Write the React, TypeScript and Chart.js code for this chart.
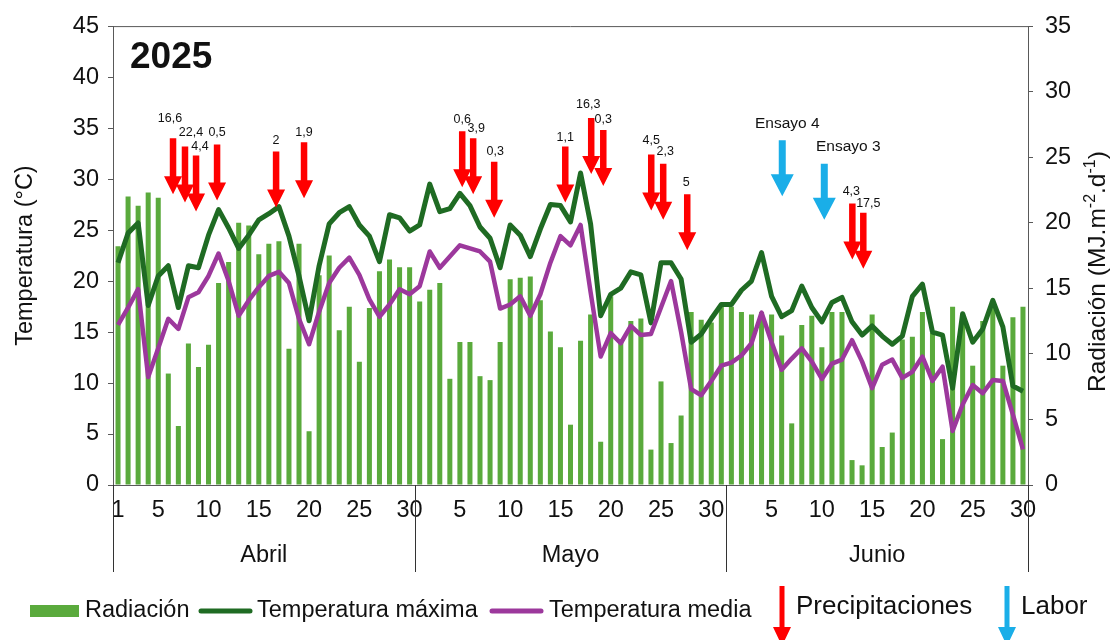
import React, { useEffect, useRef } from "react";
import { Chart, registerables } from "chart.js";

Chart.register(...registerables);

const FONT = "'Liberation Sans', Arial, Helvetica, sans-serif";

// ---------- data ----------
const MONTHS = ["Abril", "Mayo", "Junio"];
const MONTH_LENGTHS = [30, 31, 30];
const TICK_DAYS = [
  [1, 5, 10, 15, 20, 25, 30],
  [5, 10, 15, 20, 25, 30],
  [5, 10, 15, 20, 25, 30],
];

const RAD_ABRIL = [18.2, 22.0, 21.3, 22.3, 21.9, 8.5, 4.5, 10.8, 9.0, 10.7, 15.4, 17.0, 20.0, 19.8, 17.6, 18.4, 18.6, 10.4, 18.4, 4.1, 16.0, 17.5, 11.8, 13.6, 9.4, 13.5, 16.3, 17.2, 16.6, 16.6];
const RAD_MAYO = [14.0, 14.9, 15.4, 8.1, 10.9, 10.9, 8.3, 8.0, 10.9, 15.7, 15.8, 15.9, 14.1, 11.7, 10.5, 4.6, 11.0, 13.0, 3.3, 14.4, 10.9, 12.5, 12.7, 2.7, 7.9, 3.2, 5.3, 13.2, 12.6, 12.4, 13.7];
const RAD_JUNIO = [13.6, 13.2, 13.0, 13.2, 13.0, 11.4, 4.7, 12.2, 12.9, 10.5, 13.2, 13.2, 1.9, 1.5, 13.0, 2.9, 4.0, 11.1, 11.3, 13.2, 11.6, 3.5, 13.6, 12.9, 9.1, 12.5, 13.6, 9.1, 12.8, 13.6];

const TMAX_ABRIL = [21.8, 24.7, 25.7, 17.6, 20.5, 21.5, 17.4, 21.5, 21.3, 24.5, 27.0, 25.2, 23.2, 24.5, 26.0, 26.6, 27.3, 24.4, 20.5, 16.1, 21.5, 25.6, 26.7, 27.3, 25.5, 24.4, 21.9, 26.5, 26.2, 24.9];
const TMAX_MAYO = [25.5, 29.5, 26.8, 27.1, 28.6, 27.4, 25.3, 24.2, 21.3, 25.5, 24.5, 22.4, 25.1, 27.5, 27.4, 25.8, 30.6, 25.6, 16.6, 18.7, 19.3, 20.9, 20.6, 15.9, 21.8, 21.8, 20.2, 14.0, 14.8, 16.3, 17.7];
const TMAX_JUNIO = [17.7, 19.1, 20.0, 22.8, 18.5, 16.5, 17.1, 19.5, 17.4, 16.0, 17.9, 18.4, 16.0, 14.7, 15.6, 14.6, 13.8, 14.6, 18.5, 19.7, 15.0, 14.7, 9.5, 16.8, 14.0, 15.3, 18.1, 15.5, 9.7, 9.2];

const TMED_ABRIL = [15.7, 17.4, 19.2, 10.6, 13.4, 16.3, 15.3, 18.4, 18.9, 20.5, 22.7, 20.0, 16.6, 18.1, 19.4, 20.5, 20.9, 19.8, 16.3, 13.8, 17.0, 19.8, 21.3, 22.3, 20.6, 18.2, 16.5, 17.7, 19.2, 18.7];
const TMED_MAYO = [19.5, 22.9, 21.3, 22.4, 23.5, 23.2, 22.9, 21.9, 17.3, 17.7, 18.5, 16.6, 18.7, 21.8, 24.4, 23.5, 25.5, 18.9, 12.6, 14.9, 13.9, 15.6, 14.7, 14.8, 17.4, 20.0, 15.0, 9.4, 8.8, 10.2, 11.7];
const TMED_JUNIO = [12.0, 12.7, 13.9, 16.9, 14.0, 11.3, 12.4, 13.4, 12.1, 10.4, 11.9, 12.3, 14.2, 12.1, 9.5, 11.8, 12.3, 10.5, 11.1, 12.6, 10.2, 11.6, 5.3, 7.9, 9.8, 9.0, 10.3, 10.2, 6.9, 3.5];

// precipitation events: position as day number within the series (1 = 1 Apr), top on temperature axis
const PRECIP_DAY = [6.47, 7.66, 8.76, 10.85, 16.72, 19.5, 35.23, 36.32, 38.41, 45.48, 48.06, 49.26, 54.03, 55.22, 57.61, 74.03, 75.12];
const PRECIP_MM = ["16,6", "22,4", "4,4", "0,5", "2", "1,9", "0,6", "3,9", "0,3", "1,1", "16,3", "0,3", "4,5", "2,3", "5", "4,3", "17,5"];
const PRECIP_TOP = [34.0, 33.2, 32.3, 33.4, 32.7, 33.6, 34.7, 34.0, 31.7, 33.2, 36.0, 34.8, 32.4, 31.5, 28.5, 27.6, 26.7];

const LABOR_DAY = [67.06, 71.24];
const LABOR_TEXT = ["Ensayo 4", "Ensayo 3"];
const LABOR_TOP = [33.8, 31.5];

const YEAR_TEXT = "2025";

// ---------- styles ----------
const BAR_COLOR = "#5AAA3C";
const MAX_COLOR = "#1F6B23";
const MED_COLOR = "#9C389C";
const RED = "#FF0000";
const BLUE = "#1AAEE8";
const AXIS = "#595959";
const TEXT = "#111111";
const PRECIP_LABEL_OFFSET = [[-3, -20], [6, -14], [4, -9], [0, -12], [0, -11], [0, -10], [0, -12], [3, -10], [1, -10], [0, -9], [-3, -13], [0, -11], [0, -14], [2, -12], [-1, -12], [-1, -12], [5, -9]];
const LABOR_LABEL_OFFSET = [[5, -17], [24, -17]];

function drawArrow(ctx: CanvasRenderingContext2D, x: number, top: number, tip: number, shaftW: number, headW: number, headH: number, color: string) {
  ctx.save();
  ctx.fillStyle = color;
  ctx.beginPath();
  ctx.moveTo(x - shaftW / 2, top);
  ctx.lineTo(x + shaftW / 2, top);
  ctx.lineTo(x + shaftW / 2, tip - headH);
  ctx.lineTo(x + headW / 2, tip - headH);
  ctx.lineTo(x, tip);
  ctx.lineTo(x - headW / 2, tip - headH);
  ctx.lineTo(x - shaftW / 2, tip - headH);
  ctx.closePath();
  ctx.fill();
  ctx.restore();
}

const overlayPlugin = {
  id: "overlay",
  afterDraw(chart: any) {
    const ctx: CanvasRenderingContext2D = chart.ctx;
    const xs = chart.scales.x;
    const ys = chart.scales.y;
    const area = chart.chartArea;
    ctx.save();

    // top border
    ctx.strokeStyle = AXIS;
    ctx.lineWidth = 1;
    ctx.beginPath();
    ctx.moveTo(area.left, area.top + 0.5);
    ctx.lineTo(area.right, area.top + 0.5);
    ctx.stroke();

    // month separators and names
    let start = 0;
    const bounds: number[] = [xs.getPixelForValue(-0.5)];
    MONTH_LENGTHS.forEach((n) => {
      start += n;
      bounds.push(xs.getPixelForValue(start - 0.5));
    });
    ctx.strokeStyle = "#333333";
    bounds.forEach((bx) => {
      const px = Math.round(bx) + 0.5;
      ctx.beginPath();
      ctx.moveTo(px, area.bottom);
      ctx.lineTo(px, area.bottom + 87);
      ctx.stroke();
    });
    ctx.fillStyle = TEXT;
    ctx.font = `23.5px ${FONT}`;
    ctx.textAlign = "center";
    ctx.textBaseline = "middle";
    MONTHS.forEach((m, i) => {
      ctx.fillText(m, (bounds[i] + bounds[i + 1]) / 2, area.bottom + 71);
    });

    // year
    ctx.font = `bold 37px ${FONT}`;
    ctx.textAlign = "left";
    ctx.textBaseline = "alphabetic";
    ctx.fillText(YEAR_TEXT, area.left + 17, area.top + 42);

    // precipitation arrows
    const ARROW_LEN = 56;
    PRECIP_DAY.forEach((d, i) => {
      const x = xs.getPixelForValue(d - 1);
      const top = ys.getPixelForValue(PRECIP_TOP[i]);
      drawArrow(ctx, x, top, top + ARROW_LEN, 6.5, 18, 18, RED);
      const [dx, dy] = PRECIP_LABEL_OFFSET[i];
      ctx.fillStyle = TEXT;
      ctx.font = `12.5px ${FONT}`;
      ctx.textAlign = "center";
      ctx.textBaseline = "middle";
      ctx.fillText(PRECIP_MM[i], x + dx, top + dy);
    });
    LABOR_DAY.forEach((d, i) => {
      const x = xs.getPixelForValue(d - 1);
      const top = ys.getPixelForValue(LABOR_TOP[i]);
      drawArrow(ctx, x, top, top + ARROW_LEN, 7, 23, 22, BLUE);
      const [dx, dy] = LABOR_LABEL_OFFSET[i];
      ctx.fillStyle = TEXT;
      ctx.font = `15.5px ${FONT}`;
      ctx.textAlign = "center";
      ctx.textBaseline = "middle";
      ctx.fillText(LABOR_TEXT[i], x + dx, top + dy);
    });

    // axis titles
    ctx.fillStyle = TEXT;
    ctx.save();
    ctx.translate(26, (area.top + area.bottom) / 2);
    ctx.rotate(-Math.PI / 2);
    ctx.font = `23.5px ${FONT}`;
    ctx.textAlign = "center";
    ctx.textBaseline = "middle";
    ctx.fillText("Temperatura (°C)", 0, 0);
    ctx.restore();

    const parts: [string, boolean][] = [["Radiación (MJ.m", false], ["-2", true], [".d", false], ["-1", true], [")", false]];
    const big = `24.5px ${FONT}`;
    const small = `16px ${FONT}`;
    let total = 0;
    parts.forEach(([t, sup]) => {
      ctx.font = sup ? small : big;
      total += ctx.measureText(t).width;
    });
    ctx.save();
    ctx.translate(area.right + 70, (area.top + area.bottom) / 2 + 16);
    ctx.rotate(-Math.PI / 2);
    ctx.textAlign = "left";
    ctx.textBaseline = "middle";
    let cx = -total / 2;
    parts.forEach(([t, sup]) => {
      ctx.font = sup ? small : big;
      ctx.fillText(t, cx, sup ? -7 : 0);
      cx += ctx.measureText(t).width;
    });
    ctx.restore();

    // legend
    const ly = 611;
    ctx.font = `23.5px ${FONT}`;
    ctx.textAlign = "left";
    ctx.textBaseline = "middle";
    ctx.fillStyle = BAR_COLOR;
    ctx.fillRect(30, ly - 6, 49, 12);
    ctx.fillStyle = TEXT;
    ctx.fillText("Radiación", 85, ly);
    ctx.strokeStyle = MAX_COLOR;
    ctx.lineWidth = 5;
    ctx.lineCap = "round";
    ctx.beginPath();
    ctx.moveTo(201, ly);
    ctx.lineTo(250, ly);
    ctx.stroke();
    ctx.fillText("Temperatura máxima", 257, ly);
    ctx.strokeStyle = MED_COLOR;
    ctx.beginPath();
    ctx.moveTo(492, ly);
    ctx.lineTo(541, ly);
    ctx.stroke();
    ctx.fillText("Temperatura media", 549, ly);
    drawArrow(ctx, 782, 586, 646, 5, 18, 19, RED);
    ctx.font = `26px ${FONT}`;
    ctx.fillStyle = TEXT;
    ctx.fillText("Precipitaciones", 796, 607);
    drawArrow(ctx, 1007, 586, 646, 5, 18, 19, BLUE);
    ctx.fillStyle = TEXT;
    ctx.fillText("Labor", 1021, 607);

    ctx.restore();
  },
};

export default function App() {
  const canvasRef = useRef<HTMLCanvasElement | null>(null);

  useEffect(() => {
    const canvas = canvasRef.current;
    if (!canvas) return;
    Chart.defaults.font.family = FONT;

    const labels: string[] = [];
    const showTick: boolean[] = [];
    MONTH_LENGTHS.forEach((n, m) => {
      for (let d = 1; d <= n; d++) {
        labels.push(String(d));
        showTick.push(TICK_DAYS[m].includes(d));
      }
    });
    const rad = [...RAD_ABRIL, ...RAD_MAYO, ...RAD_JUNIO];
    const tmax = [...TMAX_ABRIL, ...TMAX_MAYO, ...TMAX_JUNIO];
    const tmed = [...TMED_ABRIL, ...TMED_MAYO, ...TMED_JUNIO];

    const chart = new Chart(canvas, {
      type: "bar",
      data: {
        labels,
        datasets: [
          {
            type: "line",
            label: "Temperatura media",
            data: tmed,
            yAxisID: "y",
            borderColor: MED_COLOR,
            borderWidth: 4.5,
            pointRadius: 0,
            tension: 0,
            borderJoinStyle: "round",
            order: 1,
          } as any,
          {
            type: "line",
            label: "Temperatura máxima",
            data: tmax,
            yAxisID: "y",
            borderColor: MAX_COLOR,
            borderWidth: 5,
            pointRadius: 0,
            tension: 0,
            borderJoinStyle: "round",
            order: 2,
          } as any,
          {
            type: "bar",
            label: "Radiación",
            data: rad,
            yAxisID: "y1",
            backgroundColor: BAR_COLOR,
            barPercentage: 0.5,
            categoryPercentage: 1,
            order: 3,
          } as any,
        ],
      },
      options: {
        responsive: false,
        animation: false,
        layout: { padding: { top: 20, left: 0, right: 0, bottom: 0 } },
        plugins: { legend: { display: false }, tooltip: { enabled: false } },
        scales: {
          x: {
            type: "category",
            offset: true,
            grid: { display: false, drawTicks: false },
            border: { display: true, color: AXIS, width: 1 },
            ticks: {
              autoSkip: false,
              maxRotation: 0,
              minRotation: 0,
              padding: 11,
              color: TEXT,
              font: { size: 23.5, family: FONT },
              callback: (_v: any, i: number) => (showTick[i] ? labels[i] : ""),
            },
            afterFit: (s: any) => {
              s.height = 155;
            },
          },
          y: {
            position: "left",
            min: 0,
            max: 45,
            ticks: { stepSize: 5, padding: 9, color: TEXT, font: { size: 23.5, family: FONT } },
            grid: { display: true, drawOnChartArea: false, drawTicks: true, tickLength: 5, color: AXIS },
            border: { display: true, color: AXIS, width: 1 },
            afterFit: (s: any) => {
              s.width = 113;
            },
          },
          y1: {
            position: "right",
            min: 0,
            max: 35,
            ticks: { stepSize: 5, padding: 12, color: TEXT, font: { size: 23.5, family: FONT } },
            grid: { display: true, drawOnChartArea: false, drawTicks: true, tickLength: 5, color: AXIS },
            border: { display: true, color: AXIS, width: 1 },
            afterFit: (s: any) => {
              s.width = 86;
            },
          },
        },
      } as any,
      plugins: [overlayPlugin],
    });
    return () => chart.destroy();
  }, []);

  return (
    <div style={{ position: "fixed", left: 0, top: 0, width: 1114, height: 640, background: "#fff" }}>
      <canvas ref={canvasRef} width={1114} height={640} style={{ width: 1114, height: 640, display: "block" }} />
    </div>
  );
}
